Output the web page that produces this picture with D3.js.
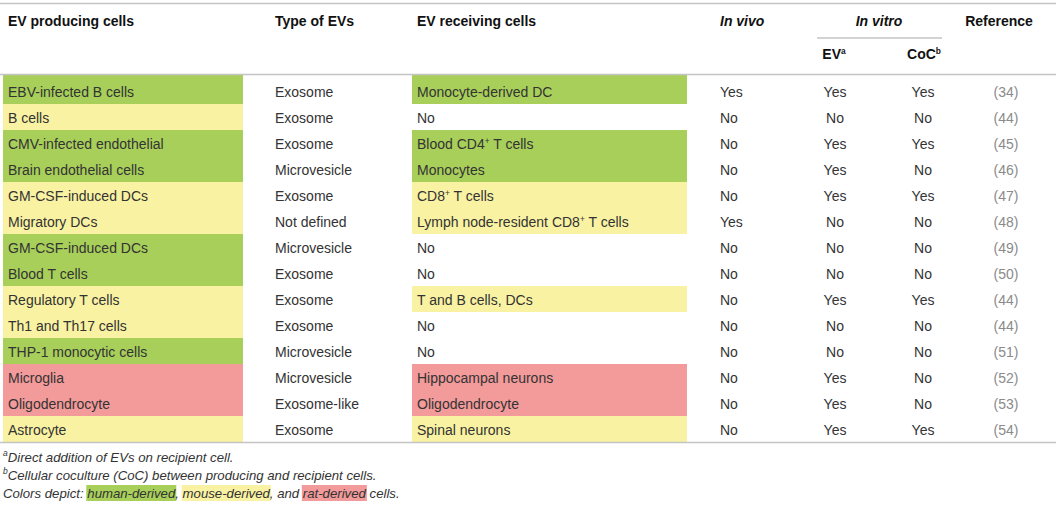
<!DOCTYPE html>
<html>
<head>
<meta charset="utf-8">
<script src="https://cdn.jsdelivr.net/npm/d3@7"></script>
<style>
  body { margin: 0; background: #fff; }
  text { font-family: "Liberation Sans", Arial, Helvetica, sans-serif; white-space: pre; }
</style>
</head>
<body>
<script>
// table data, one list per column
const producing = ["EBV-infected B cells", "B cells", "CMV-infected endothelial", "Brain endothelial cells",
  "GM-CSF-induced DCs", "Migratory DCs", "GM-CSF-induced DCs", "Blood T cells", "Regulatory T cells",
  "Th1 and Th17 cells", "THP-1 monocytic cells", "Microglia", "Oligodendrocyte", "Astrocyte"];
const producingOrigin = ["human", "mouse", "human", "human", "mouse", "mouse", "human", "human", "mouse",
  "mouse", "human", "rat", "rat", "mouse"];
const evType = ["Exosome", "Exosome", "Exosome", "Microvesicle", "Exosome", "Not defined", "Microvesicle",
  "Exosome", "Exosome", "Exosome", "Microvesicle", "Microvesicle", "Exosome-like", "Exosome"];
const receiving = ["Monocyte-derived DC", "No", "Blood CD4{+} T cells", "Monocytes", "CD8{+} T cells",
  "Lymph node-resident CD8{+} T cells", "No", "No", "T and B cells, DCs", "No", "No",
  "Hippocampal neurons", "Oligodendrocyte", "Spinal neurons"];
const receivingOrigin = ["human", null, "human", "human", "mouse", "mouse", null, null, "mouse", null, null,
  "rat", "rat", "mouse"];
const inVivo = ["Yes", "No", "No", "No", "No", "Yes", "No", "No", "No", "No", "No", "No", "No", "No"];
const evDirect = ["Yes", "No", "Yes", "Yes", "Yes", "No", "No", "No", "Yes", "No", "No", "Yes", "Yes", "Yes"];
const coculture = ["Yes", "No", "Yes", "No", "Yes", "No", "No", "No", "Yes", "No", "No", "No", "No", "Yes"];
const refs = ["(34)", "(44)", "(45)", "(46)", "(47)", "(48)", "(49)", "(50)", "(44)", "(44)", "(51)", "(52)", "(53)", "(54)"];

const footnotes = [
  [{sup: "a"}, {t: "Direct addition of EVs on recipient cell."}],
  [{sup: "b"}, {t: "Cellular coculture (CoC) between producing and recipient cells."}],
  [{t: "Colors depict: "}, {t: "human-derived", o: "human"}, {t: ", "}, {t: "mouse-derived", o: "mouse"},
   {t: ", and "}, {t: "rat-derived", o: "rat"}, {t: " cells."}]
];

const width = 1058, height = 505;
const originColor = {human: "#a8cf5a", mouse: "#f9f2a2", rat: "#f39a9a"};

const svg = d3.select("body").append("svg")
  .attr("width", width)
  .attr("height", height);

const rows = d3.range(producing.length);
const y = d3.scaleBand().domain(rows).range([78, 442]);
const headerLine = 75;

// writes "text{sup}text" into a text element
function richText(sel, s, size) {
  let shift = 0;
  s.split(/(\{[^}]*\})/).filter(p => p.length).forEach(p => {
    if (p[0] === "{") {
      sel.append("tspan").attr("font-size", size * 0.6).attr("dy", -5).text(p.slice(1, -1));
      shift = 5;
    } else {
      const ts = sel.append("tspan").text(p);
      if (shift) { ts.attr("dy", shift); shift = 0; }
    }
  });
}

// colour boxes
function boxes(origin, x0, x1) {
  svg.append("g").selectAll("rect")
    .data(rows.filter(i => origin[i]))
    .enter().append("rect")
    .attr("x", x0)
    .attr("width", x1 - x0)
    .attr("y", i => i === 0 ? headerLine : y(i))
    .attr("height", i => i === 0 ? y(i) + y.bandwidth() - headerLine : y.bandwidth())
    .attr("fill", i => originColor[origin[i]]);
}
boxes(producingOrigin, 3, 243);
boxes(receivingOrigin, 412, 687);

// rules
const rule = "#c4c4c4";
svg.append("line").attr("x1", 0).attr("x2", 1056).attr("y1", 3.5).attr("y2", 3.5).attr("stroke", rule).attr("stroke-width", 1.5);
svg.append("line").attr("x1", 817).attr("x2", 942).attr("y1", 38).attr("y2", 38).attr("stroke", rule).attr("stroke-width", 1.5);
svg.append("line").attr("x1", 0).attr("x2", 1056).attr("y1", headerLine - 0.5).attr("y2", headerLine - 0.5).attr("stroke", rule).attr("stroke-width", 1.5);
svg.append("line").attr("x1", 0).attr("x2", 1056).attr("y1", 442.5).attr("y2", 442.5).attr("stroke", rule).attr("stroke-width", 1.5);

// header
const headers = [
  {t: "EV producing cells", x: 8, y: 21, a: "start"},
  {t: "Type of EVs", x: 275, y: 21, a: "start"},
  {t: "EV receiving cells", x: 417, y: 21, a: "start"},
  {t: "In vivo", x: 720, y: 21, a: "start", it: true},
  {t: "In vitro", x: 879, y: 21, a: "middle", it: true},
  {t: "Reference", x: 999, y: 21, a: "middle"},
  {t: "EV{a}", x: 834, y: 54, a: "middle"},
  {t: "CoC{b}", x: 924, y: 54, a: "middle"}
];
headers.forEach(h => {
  const t = svg.append("text")
    .attr("x", h.x).attr("y", h.y)
    .attr("dy", "0.35em")
    .attr("text-anchor", h.a)
    .attr("font-size", 14)
    .attr("font-weight", "bold")
    .attr("font-style", h.it ? "italic" : "normal")
    .attr("fill", "#111");
  richText(t, h.t, 14);
});

// body columns
const columns = [
  {vals: producing, x: 8, a: "start"},
  {vals: evType, x: 275, a: "start"},
  {vals: receiving, x: 417, a: "start"},
  {vals: inVivo, x: 720, a: "start"},
  {vals: evDirect, x: 835, a: "middle"},
  {vals: coculture, x: 923, a: "middle"},
  {vals: refs, x: 1006, a: "middle", fill: "#8a8a8a"}
];
columns.forEach(c => {
  svg.append("g").selectAll("text")
    .data(rows)
    .enter().append("text")
    .attr("x", c.x)
    .attr("y", i => y(i) + y.bandwidth() / 2 + 1)
    .attr("dy", "0.35em")
    .attr("text-anchor", c.a)
    .attr("font-size", 14)
    .attr("fill", c.fill || "#333")
    .each(function(i) { richText(d3.select(this), c.vals[i], 14); });
});

// footnotes
const noteY = [457, 475, 493];
footnotes.forEach((parts, li) => {
  let x = 3;
  const g = svg.append("g");
  parts.forEach(p => {
    const size = p.sup ? 8.5 : 13.2;
    const t = g.append("text")
      .attr("x", x)
      .attr("y", noteY[li] + (p.sup ? -4 : 0))
      .attr("dy", "0.35em")
      .attr("font-size", size)
      .attr("font-style", "italic")
      .attr("fill", "#333")
      .text(p.sup || p.t);
    const w = t.node().getComputedTextLength();
    if (p.o) {
      g.insert("rect", "text")
        .attr("x", x - 1).attr("width", w + 2)
        .attr("y", noteY[li] - 8).attr("height", 16)
        .attr("fill", originColor[p.o]);
    }
    x += w;
  });
});
</script>
</body>
</html>
